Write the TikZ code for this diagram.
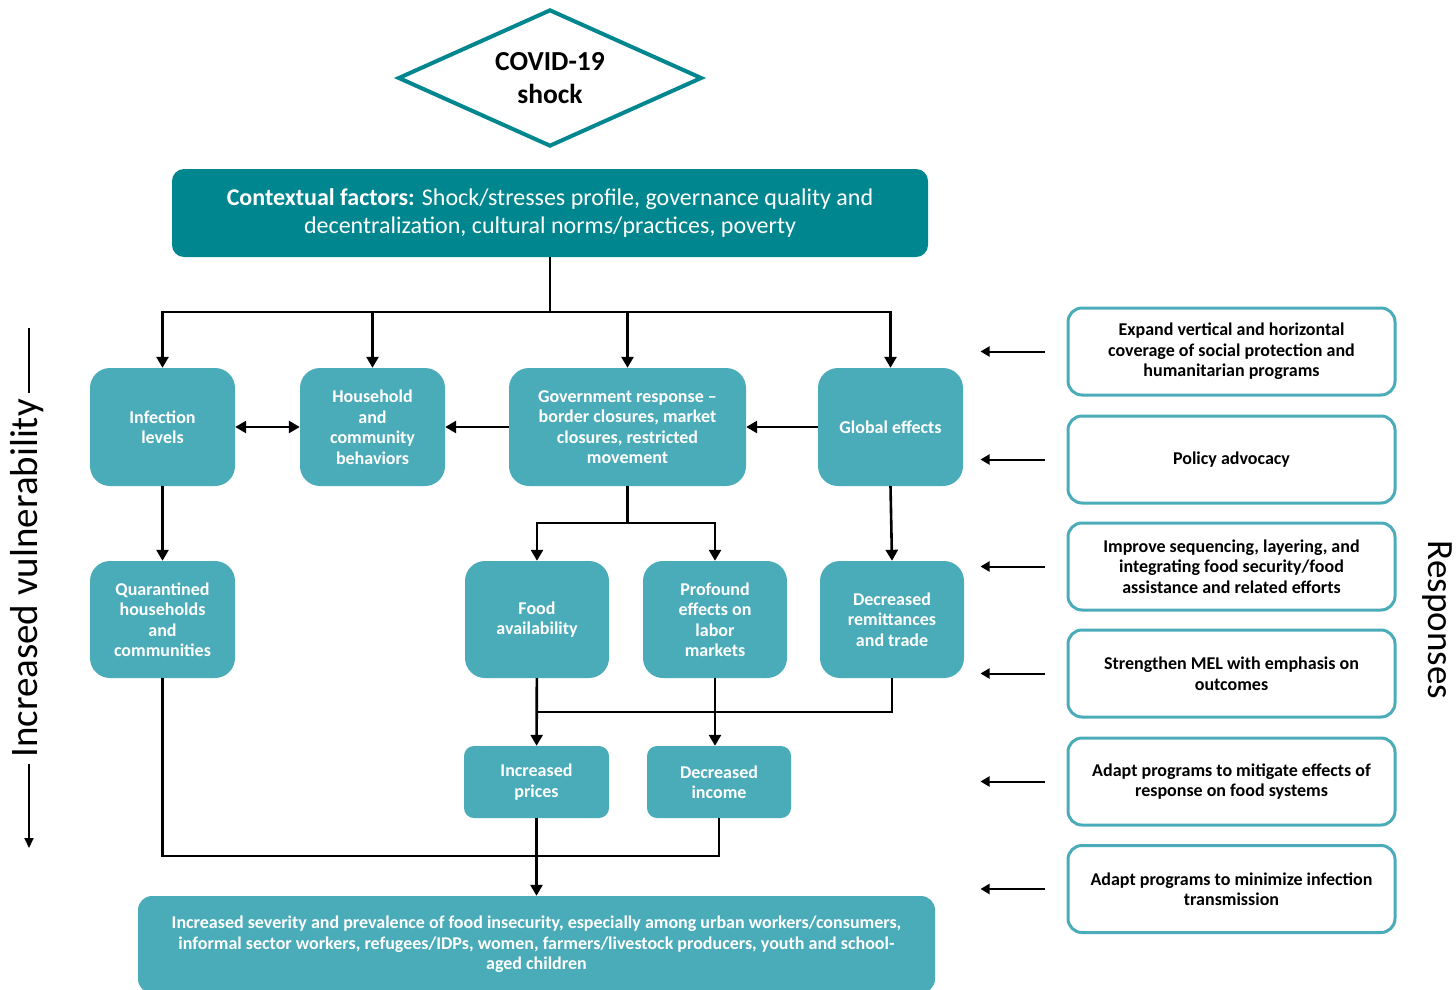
\documentclass[tikz,border=0pt]{standalone}
\usepackage{fontspec}
\setmainfont{Carlito}
\usetikzlibrary{shapes.geometric, arrows.meta}
\definecolor{darkteal}{RGB}{0,134,143}
\definecolor{lightteal}{RGB}{75,172,185}
\tikzset{
    cause/.style={fill=lightteal, rounded corners=20pt, text=white, align=center, inner sep=0pt,
        font=\bfseries\fontsize{18}{20.5}\selectfont, minimum width=145pt, minimum height=118pt},
    effect/.style={cause, rounded corners=10pt, minimum height=72pt},
    response/.style={draw=lightteal, line width=3pt, rounded corners=14pt, align=center, inner sep=0pt,
        font=\bfseries\fontsize{18}{20.5}\selectfont, minimum width=327pt, minimum height=87pt},
    sidelabel/.style={font=\fontsize{39}{42}\selectfont, inner sep=6pt},
    link/.style={line width=2.6pt},
    arr/.style={link, -{Triangle[length=11pt, width=12pt]}},
    resparr/.style={line width=2pt, -{Triangle[length=9pt, width=10pt]}}
}

\begin{document}
\begin{tikzpicture}[x=1pt, y=-1pt]
        \path[use as bounding box] (0,0) rectangle (1456,990);
        \clip (0,0) rectangle (1456,990);

        \node[diamond, aspect=2.2, draw=darkteal, line width=4pt, minimum width=304pt, minimum height=137pt, inner sep=0pt,
            align=center, font=\bfseries\fontsize{27.5}{33}\selectfont] (shock) at (550,78) {COVID-19\\shock};
        \node[fill=darkteal, rounded corners=12pt, text=white, align=center, minimum width=756pt, minimum height=88pt,
            inner sep=0pt, font=\fontsize{24}{28}\selectfont] (ctx) at (550,213)
            {\textbf{Contextual factors:} Shock/stresses profile, governance quality and\\decentralization, cultural norms/practices, poverty};

        \node[cause] (inf) at (162.5,427) {Infection\\levels};
        \node[cause] (hh) at (372.5,427) {Household\\and\\community\\behaviors};
        \node[cause, minimum width=237pt] (gov) at (627.5,427) {Government response --\\border closures, market\\closures, restricted\\movement};
        \node[cause] (glob) at (890.5,427) {Global effects};

        \node[cause, minimum height=117pt] (quar) at (162.5,619.5) {Quarantined\\households\\and\\communities};
        \node[cause, minimum width=144pt, minimum height=117pt] (food) at (537,619.5) {Food\\availability};
        \node[cause, minimum width=144pt, minimum height=117pt] (labor) at (715,619.5) {Profound\\effects on\\labor\\markets};
        \node[cause, minimum width=144pt, minimum height=117pt] (remit) at (892,619.5) {Decreased\\remittances\\and trade};

        \node[effect] (prices) at (536.5,782) {Increased\\prices};
        \node[effect, minimum width=144pt] (income) at (719,782) {Decreased\\income};

        \node[cause, rounded corners=14pt, minimum width=797pt, minimum height=97pt] (final) at (536.5,944.5)
            {Increased severity and prevalence of food insecurity, especially among urban workers/consumers,\\informal sector workers, refugees/IDPs, women, farmers/livestock producers, youth and school-\\aged children};

        \coordinate (bus) at (550,312);
        \draw[link] (ctx) -- (bus);
        \draw[link] (inf.north |- bus) -- (glob.north |- bus);
        \draw[arr] (bus) -| (inf);
        \draw[arr] (bus) -| (hh);
        \draw[arr] (bus) -| (gov);
        \draw[arr] (bus) -| (glob);

        \draw[link, {Triangle[length=11pt, width=12pt]}-{Triangle[length=11pt, width=12pt]}] (inf) -- (hh);
        \draw[arr] (gov) -- (hh);
        \draw[arr] (glob) -- (gov);

        \draw[arr] (inf) -- (quar);
        \coordinate (split) at (627.5,523);
        \draw[link] (gov) -- (split);
        \draw[arr] (split) -| (food);
        \draw[arr] (split) -| (labor);
        \draw[arr] (glob.south) -- (remit.north);

        \coordinate (merge) at (715,712);
        \draw[link] (remit.south) |- (food.south |- merge);
        \draw[arr] (food) -- (prices);
        \draw[arr] (labor.south) -- (labor.south |- income.north);

        \coordinate (join) at (537,856);
        \draw[link] (quar.south) |- (income.south |- join) -- (income.south);
        \draw[arr] (prices) -- (final);

        \node[response] (r1) at (1231.5,351.5) {Expand vertical and horizontal\\coverage of social protection and\\humanitarian programs};
        \node[response] (r2) at (1231.5,459.5) {Policy advocacy};
        \node[response] (r3) at (1231.5,566.5) {Improve sequencing, layering, and\\integrating food security/food\\assistance and related efforts};
        \node[response] (r4) at (1231.5,673.5) {Strengthen MEL with emphasis on\\outcomes};
        \node[response] (r5) at (1231.5,781.5) {Adapt programs to mitigate effects of\\response on food systems};
        \node[response] (r6) at (1231.5,889) {Adapt programs to minimize infection\\transmission};
        \foreach \i in {1,...,6}
            \draw[resparr] ([xshift=-22pt]r\i.west) -- ([xshift=-86pt]r\i.west);

        \node[sidelabel, rotate=90] (vul) at (27,578.5) {Increased vulnerability};
        \coordinate (vtop) at (29,328);
        \coordinate (vbot) at (29,848);
        \draw[line width=2pt] (vul.east -| vtop) -- (vtop);
        \draw[line width=2pt, -{Triangle[length=10pt, width=9pt]}] (vul.west -| vbot) -- (vbot);
        \node[sidelabel, rotate=-90, font=\fontsize{37}{42}\selectfont] (resp) at (1437,620) {Responses};
    \end{tikzpicture}
\end{document}
